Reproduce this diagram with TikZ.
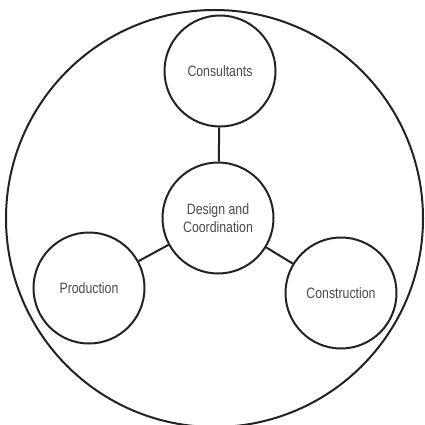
\documentclass[tikz,border=0pt]{standalone}
\usepackage{fontspec}
\newfontfamily\labelfont[FakeStretch=0.82]{Liberation Sans}
\definecolor{inkline}{HTML}{222222}
\definecolor{inktext}{HTML}{4A4A4A}
\tikzset{
  part/.style={circle,draw=inkline,line width=2pt,minimum size=111pt,inner sep=0pt,
    align=center,font=\labelfont\fontsize{15}{18}\selectfont,text=inktext},
  link/.style={draw=inkline,line width=2pt}
}
\begin{document}
\begin{tikzpicture}[x=1pt,y=1pt]
\useasboundingbox (0,0) rectangle (425,424);

\coordinate (outer) at (214.5,205.5);
\draw[link] (outer) circle (208.5);

\node[part] (consult) at (220,353) {Consultants};
\node[part] (design)  at (218,206) {Design and\\Coordination};
\node[part] (prod)    at ( 89,136) {Production};
\node[part] (constr)  at (341,131) {Construction};

\draw[link] (design)--(consult)
	(design)--(prod)
	(design)--(constr);
\end{tikzpicture}
\end{document}
